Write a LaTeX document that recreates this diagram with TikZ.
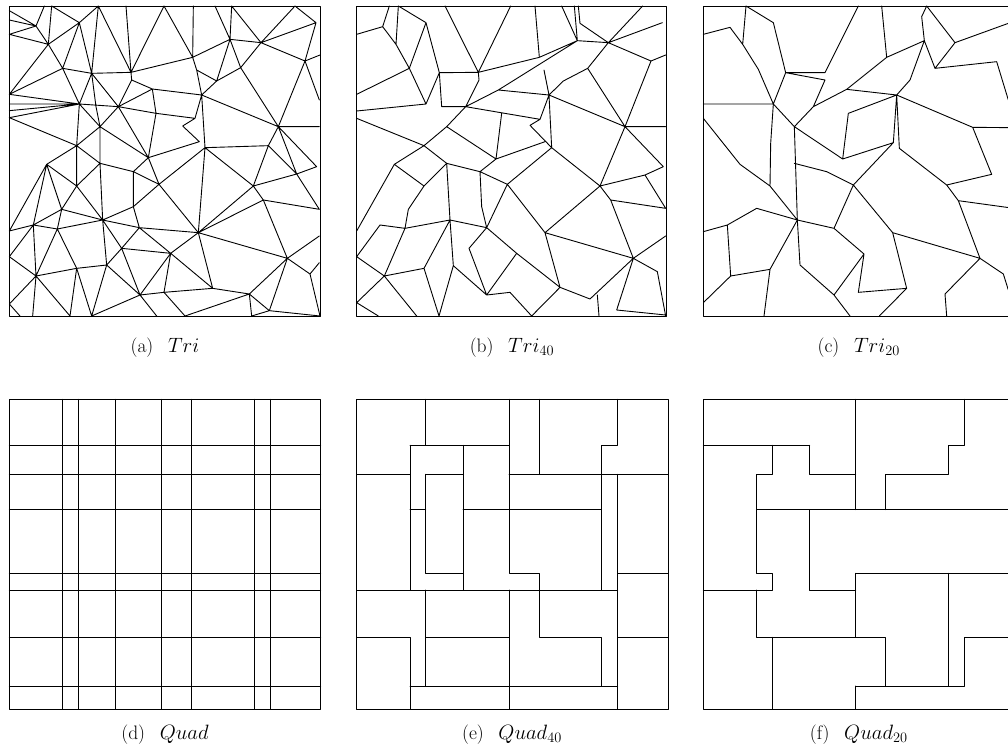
\documentclass[tikz,border=0pt]{standalone}
\begin{document}
\begin{tikzpicture}[x=1pt,y=-1pt]
\tikzset{mesh/.style={line width=0.9pt,line join=round,line cap=round,black},
  captxt/.style={anchor=base,inner sep=0pt,font=\fontsize{19.5}{23}\selectfont}}
\useasboundingbox (0,0) rectangle (1008,753);
\clip (0,0) rectangle (1008,753);
% ---------------- (a) Tri ----------------
\begin{scope}[shift={(0,0)},x=0.33333pt,y=-0.33333pt]
\draw[mesh] (28,18) rectangle (960,948);
\draw[mesh]
(28,32)--(108,78) (28,60)--(108,78) (28,103)--(108,78) (108,78)--(133,18) (108,78)--(145,133)
(155,18)--(145,133) (155,18)--(238,68) (238,68)--(295,18) (28,103)--(145,133) (145,133)--(238,68)
(145,133)--(188,205) (145,133)--(28,283) (238,68)--(188,205) (238,68)--(275,220)
(295,18)--(275,220) (295,18)--(393,217) (378,18)--(393,217) (188,205)--(275,220)
(275,220)--(393,217) (188,205)--(28,283) (188,205)--(238,312) (275,220)--(238,312)
(275,220)--(355,320) (275,220)--(288,320)--(300,380) (393,217)--(395,240)--(355,320)
(395,240)--(457,267) (393,217)--(578,172) (492,18)--(393,217) (492,18)--(578,172)
(580,18)--(578,172) (578,172)--(690,118) (578,172)--(590,210)--(605,285)
(590,210)--(650,243) (645,18)--(690,118) (695,18)--(690,118) (690,118)--(783,128)
(695,18)--(783,128) (885,18)--(783,128) (885,18)--(948,68) (948,68)--(783,128)
(948,68)--(915,183) (783,128)--(915,183) (915,183)--(960,165) (690,118)--(722,203)
(783,128)--(722,203) (690,118)--(650,243) (722,203)--(650,243) (722,203)--(835,380)
(915,183)--(835,380) (915,183)--(958,300)
(457,267)--(605,285) (457,267)--(355,320) (457,267)--(468,340) (468,340)--(445,473)
(468,340)--(585,355) (355,320)--(468,340)
(605,285)--(650,243) (605,285)--(835,380) (605,285)--(615,443)
(605,285)--(585,355)--(548,378) (548,378)--(598,425) (598,425)--(445,473)
(615,443)--(805,437) (615,443)--(760,558) (805,437)--(835,380) (805,437)--(760,558)
(805,437)--(890,522) (835,380)--(958,380) (835,380)--(890,522) (835,380)--(950,500)
(890,522)--(760,558) (890,522)--(950,500) (890,522)--(958,628) (760,558)--(790,600)
(790,600)--(958,628) (790,600)--(862,775) (790,600)--(595,698) (760,558)--(595,698)
(615,443)--(595,698) (615,443)--(477,553) (595,698)--(862,775) (862,775)--(958,708)
(862,775)--(930,822) (862,775)--(808,932) (930,822)--(958,788) (930,822)--(960,948)
(808,932)--(960,948) (808,932)--(748,882) (748,882)--(862,775) (748,882)--(755,948)
(808,932)--(755,948) (595,698)--(638,865) (638,865)--(748,882) (512,760)--(638,865)
(595,698)--(512,760) (748,882)--(555,948) (492,877)--(638,865) (492,877)--(555,948)
(420,885)--(492,877) (512,760)--(492,877) (512,760)--(420,885) (420,885)--(470,948)
(420,885)--(275,948) (420,885)--(320,795) (365,745)--(420,885) (365,745)--(512,760)
(418,683)--(512,760) (418,683)--(365,745) (418,683)--(595,698) (595,698)--(477,553)
(418,683)--(400,620) (400,620)--(477,553) (477,553)--(445,473) (477,553)--(400,515)
(400,515)--(400,620) (400,515)--(300,490) (400,515)--(445,473) (300,380)--(445,473)
(300,380)--(355,320) (355,320)--(445,473) (300,380)--(230,437) (300,380)--(300,490)
(300,490)--(230,437) (300,490)--(230,558) (300,490)--(308,660) (308,660)--(400,620)
(308,660)--(418,683) (308,660)--(365,745) (308,660)--(230,558) (308,660)--(185,628)
(308,660)--(172,687) (308,660)--(320,795) (320,795)--(365,745) (320,795)--(230,805)
(230,805)--(172,687) (230,805)--(108,828) (230,805)--(210,948) (230,805)--(275,948)
(320,795)--(275,948) (108,828)--(210,948) (108,828)--(98,948) (108,828)--(28,912)
(108,828)--(28,770) (108,828)--(100,675) (108,828)--(172,687) (100,675)--(172,687)
(100,675)--(28,770) (100,675)--(28,693) (100,675)--(185,628) (100,675)--(140,493)
(28,693)--(140,493) (140,493)--(185,628) (140,493)--(230,558) (140,493)--(230,437)
(28,353)--(230,437) (230,437)--(238,312) (230,437)--(230,558) (185,628)--(230,558)
(172,687)--(185,628) (28,912)--(60,948) (28,353)--(238,312) (28,312)--(238,312)
(28,332)--(238,312) (28,283)--(238,312) (238,312)--(300,380) (238,312)--(355,320);
\end{scope}
% ---------------- (b) Tri40 ----------------
\begin{scope}[shift={(345,0)},x=0.33333pt,y=-0.33333pt]
\draw[mesh] (35,18) rectangle (965,948);
\draw[mesh]
(35,103)--(113,80) (113,80)--(133,18) (113,80)--(153,133)--(193,205) (160,18)--(153,133)
(160,18)--(243,68) (243,68)--(193,205) (243,68)--(283,218) (193,205)--(35,283)
(193,205)--(243,312) (243,312)--(35,333) (243,312)--(278,230)--(283,218)
(283,218)--(400,217) (283,218)--(290,320)--(362,320) (400,217)--(402,240)--(362,320)
(300,18)--(400,217) (497,18)--(400,217) (400,217)--(583,172) (570,18)--(583,172)
(583,172)--(697,122) (688,18)--(697,122)
(650,18)--(697,122) (700,18)--(705,70)--(790,128) (697,122)--(790,128) (790,128)--(893,18)
(790,128)--(918,183) (918,183)--(962,165) (790,128)--(952,68) (918,183)--(840,380)
(790,128)--(728,205) (728,205)--(840,380) (728,205)--(655,243)
(362,320)--(460,270)--(697,122)
(597,210)--(612,285) (460,270)--(612,285) (612,285)--(840,380) (655,243)--(612,285)
(612,285)--(585,358)--(555,376) (555,376)--(620,443) (362,320)--(585,358)
(470,340)--(453,477) (600,425)--(453,477) (612,285)--(620,443) (620,443)--(765,558)
(840,380)--(765,558) (840,380)--(962,380) (840,380)--(955,500) (765,558)--(900,525)--(955,500)
(900,525)--(962,625) (765,558)--(600,698) (765,558)--(797,600) (797,600)--(962,625)
(797,600)--(865,775) (600,698)--(865,775) (865,775)--(962,708) (865,775)--(937,815)--(962,948)
(865,775)--(815,930)--(962,945) (757,885)--(762,948) (645,862)--(735,897)--(865,775)
(600,698)--(645,862) (620,443)--(487,553) (487,553)--(600,698) (487,553)--(425,683)
(487,553)--(405,515) (405,515)--(410,620)--(425,683) (405,515)--(305,490)
(405,515)--(453,477) (305,490)--(237,437) (237,437)--(35,355) (237,437)--(305,380)
(305,380)--(362,320) (305,380)--(453,477) (148,493)--(237,558)--(305,490)
(148,493)--(237,437) (148,493)--(35,693) (237,558)--(190,628)--(180,685)
(305,490)--(315,660) (315,660)--(180,685) (315,660)--(425,683) (315,660)--(237,805)
(315,660)--(325,797) (325,797)--(425,885) (325,797)--(282,948) (237,805)--(282,948)
(237,805)--(118,828) (118,828)--(180,685) (118,828)--(35,770) (118,828)--(35,908)
(118,828)--(215,948) (35,908)--(100,948) (35,770)--(105,675)--(180,685)
(425,683)--(372,745)--(425,885) (425,683)--(515,760)--(645,862) (425,885)--(515,760)
(425,885)--(495,877)--(560,948) (645,862)--(560,948);
\end{scope}
% ---------------- (c) Tri20 ----------------
\begin{scope}[shift={(690,0)},x=0.33333pt,y=-0.33333pt]
\draw[mesh] (40,18) rectangle (972,948);
\draw[mesh]
(40,103)--(120,82) (120,82)--(158,133)--(205,208)--(250,312) (168,18)--(158,133)
(168,18)--(250,68)--(287,218) (287,218)--(405,218)--(505,18) (287,218)--(250,312)
(287,218)--(405,240)--(370,320)--(313,380) (40,312)--(250,312) (250,312)--(313,380)
(250,312)--(242,430)--(240,558) (40,355)--(150,493)--(240,558)--(322,660)
(313,380)--(322,660)--(330,795) (313,490)--(410,515)--(490,555) (313,380)--(458,477)
(458,477)--(475,340)--(620,285) (458,477)--(610,428)--(620,285)
(370,320)--(470,268)--(620,285) (470,268)--(590,172)--(703,122) (575,18)--(590,172)
(710,18)--(695,50)--(703,122) (710,18)--(795,128) (703,122)--(735,205)--(795,128)
(795,128)--(955,70) (735,205)--(920,185)--(955,300) (703,122)--(660,240)--(620,285)
(620,285)--(628,445)--(770,555) (620,285)--(848,382)--(972,383)
(848,382)--(905,523)--(770,555) (770,555)--(805,602)--(972,625) (805,602)--(870,775)
(870,775)--(608,698)--(490,555) (490,555)--(610,428) (490,555)--(432,685)
(322,660)--(432,685) (432,685)--(522,762) (522,762)--(505,877)--(650,865)--(608,698)
(522,762)--(432,885) (330,795)--(432,885)--(480,948) (650,865)--(568,948)
(870,775)--(940,822)--(955,870) (870,775)--(765,882)--(770,948)
(40,695)--(112,675)--(200,625)--(322,660) (112,675)--(122,828)--(40,908)
(122,828)--(240,808)--(322,660) (240,808)--(222,948);
\end{scope}
% ---------------- (d) Quad ----------------
\begin{scope}[shift={(9.33,399.33)},x=0.33333pt,y=-0.33333pt]
\draw[mesh] (0,0) rectangle (934,930);
\foreach \xx in {160,207,319,457,547,734,783} \draw[mesh] (\xx,0)--(\xx,930);
\foreach \yy in {138,225,331,522,572,714,860} \draw[mesh] (0,\yy)--(934,\yy);
\end{scope}
% ---------------- (e) Quad40 ----------------
\begin{scope}[shift={(356.67,399.33)},x=0.33333pt,y=-0.33333pt]
\draw[mesh] (0,0) rectangle (934,930);
\draw[mesh]
(207,0)--(207,138) (160,138)--(457,138) (457,0)--(457,522)--(547,522)--(547,572)
(547,0)--(547,225) (783,0)--(783,138)--(734,138)--(734,572) (0,225)--(160,225)
(160,138)--(160,572) (207,225)--(319,225) (207,225)--(207,522)--(319,522)
(319,138)--(319,572) (160,331)--(207,331) (319,331)--(734,331) (457,225)--(934,225)
(783,225)--(783,930) (783,522)--(934,522) (783,714)--(934,714) (0,572)--(783,572)
(207,572)--(207,860) (0,714)--(160,714)--(160,930) (207,714)--(457,714)
(457,572)--(457,930) (547,572)--(547,714)--(734,714)--(734,860) (160,860)--(783,860);
\end{scope}
% ---------------- (f) Quad20 ----------------
\begin{scope}[shift={(703.33,399.33)},x=0.33333pt,y=-0.33333pt]
\draw[mesh] (0,0) rectangle (934,930);
\draw[mesh]
(457,0)--(457,331) (783,0)--(783,138)--(734,138)--(734,225)--(547,225)--(547,331)
(0,138)--(319,138) (207,138)--(207,225)--(160,225)--(160,522)--(207,522)--(207,572)--(0,572)
(319,138)--(319,225)--(457,225) (160,331)--(934,331) (319,331)--(319,572)--(457,572)
(457,522)--(457,714) (457,522)--(934,522) (160,572)--(160,714)--(547,714)--(547,860)
(207,714)--(207,930) (734,522)--(734,860) (457,860)--(783,860) (457,860)--(457,930)
(783,860)--(783,714)--(934,714);
\end{scope}
% ---------------- captions ----------------
\node[captxt] (capa) at (165,352) {(a)\hspace{0.75em}$Tri$};
\node[captxt] (capb) at (512,352) {(b)\hspace{0.75em}$Tri_{40}$};
\node[captxt] (capc) at (858.8,352) {(c)\hspace{0.75em}$Tri_{20}$};
\node[captxt] (capd) at (165,739) {(d)\hspace{0.75em}$Quad$};
\node[captxt] (cape) at (512,739) {(e)\hspace{0.75em}$Quad_{40}$};
\node[captxt] (capf) at (858.8,739) {(f)\hspace{0.75em}$Quad_{20}$};
\end{tikzpicture}
\end{document}
